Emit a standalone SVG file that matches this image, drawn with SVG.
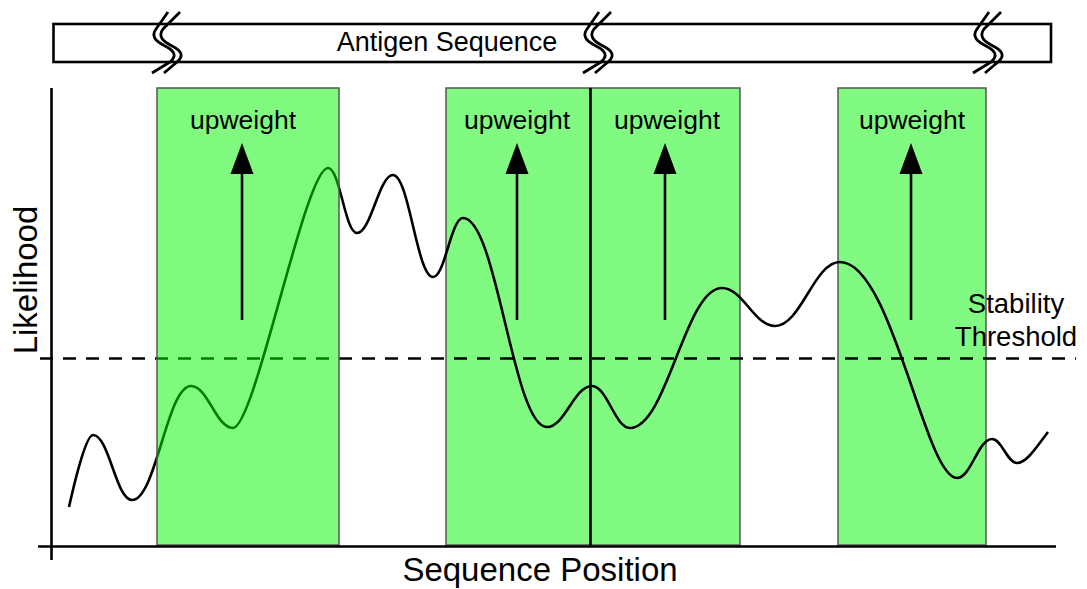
<svg xmlns="http://www.w3.org/2000/svg" width="1087" height="589" viewBox="0 0 1087 589">
<style>
.box{fill:#80fa80;stroke:#555;stroke-width:1.5}
.ov{fill:rgb(0,245,0);fill-opacity:0.5;stroke:#555;stroke-width:1.5}
.ln{fill:none;stroke:#000;stroke-width:2.6}
.t{font-family:"Liberation Sans",Arial,sans-serif;fill:#000}
.up{font-size:26.5px;text-anchor:middle}
.brk{fill:none;stroke:#000;stroke-width:2.8;stroke-linejoin:round}
</style>
<defs>
<marker id="ah" markerUnits="userSpaceOnUse" markerWidth="31" markerHeight="24" viewBox="0 -12 31 24" refX="0" refY="0" orient="auto">
<path d="M0,-11.5 L31,0 L0,11.5 Z" fill="#000"/>
</marker>
<g id="brkmark">
<path class="brk" d="M3,12 L-9,29 C-14,36 -10,41 0,46 C10,51 12,56 5,62 L-13,73"/>
<path class="brk" d="M15,12 L-2,29 C-7,36 -3,41 7,46 C17,51 19,56 12,62 L-1,73"/>
</g>
</defs>
<rect width="1087" height="589" fill="#fff"/>
<g id="sequence-bar">
<rect x="53.5" y="24" width="997.5" height="38" fill="#fff" stroke="#000" stroke-width="2.6"/>
<use href="#brkmark" x="165" y="0"/>
<use href="#brkmark" x="596" y="0"/>
<use href="#brkmark" x="986" y="0"/>
<text class="t" x="447" y="51" font-size="27" text-anchor="middle">Antigen Sequence</text>
</g>
<g id="region-2"><rect class="box" x="446" y="88" width="144.5" height="457"/></g>
<g id="region-3"><rect class="box" x="590.5" y="88" width="149.5" height="457"/></g>
<g id="region-4"><rect class="box" x="838" y="88" width="148" height="457"/></g>
<g id="threshold">
<line class="ln" x1="40" y1="358.5" x2="1076" y2="358.5" stroke-dasharray="13 10"/>
<text class="t" x="1016" y="313" font-size="27.5" text-anchor="middle">Stability</text>
<text class="t" x="1016" y="346" font-size="27.5" text-anchor="middle">Threshold</text>
</g>
<g id="likelihood-curve">
<path class="ln" d="M69,507 C75,480 86,435 93,435 C109,435 116,500 132,500 C156,500 167,386 191,386 C208,386 216,428 233,428 C255,428 305,168 328,168 C340,168 345,233 357,233 C371,233 379,175 393,175 C409,175 417,277 433,277 C445,277 451,218 463,218 C497,218 513,427 547,427 C565,427 574,386 592,386 C607,386 615,428 630,428 C667,428 685,288 722,288 C743,288 754,326 775,326 C801,326 814,262 840,262 C892,262 925,478 957,478 C971,478 978,439 992,439 C1002,439 1007,463 1017,463 C1027,463 1038,445 1048,432"/>
</g>
<g id="region-1"><rect class="ov" x="157" y="88" width="182" height="457"/></g>
<line class="ln" x1="590.5" y1="88" x2="590.5" y2="545"/>
<g id="axes">
<line class="ln" x1="51.5" y1="88" x2="51.5" y2="560"/>
<line class="ln" x1="38" y1="546.5" x2="1056" y2="546.5"/>
<text class="t" x="540" y="581" font-size="33" text-anchor="middle">Sequence Position</text>
<text class="t" x="0" y="0" font-size="33" text-anchor="middle" transform="translate(37,280) rotate(-90)">Likelihood</text>
</g>
<g id="labels">
<text class="t up" x="243" y="129">upweight</text>
<text class="t up" x="517" y="129">upweight</text>
<text class="t up" x="667" y="129">upweight</text>
<text class="t up" x="912" y="129">upweight</text>
</g>
<g id="connectors">
<line class="ln" x1="242" y1="320" x2="242" y2="174" stroke-width="4" marker-end="url(#ah)"/>
<line class="ln" x1="517" y1="320" x2="517" y2="174" stroke-width="4" marker-end="url(#ah)"/>
<line class="ln" x1="665" y1="320" x2="665" y2="174" stroke-width="4" marker-end="url(#ah)"/>
<line class="ln" x1="911" y1="320" x2="911" y2="174" stroke-width="4" marker-end="url(#ah)"/>
</g>
</svg>
